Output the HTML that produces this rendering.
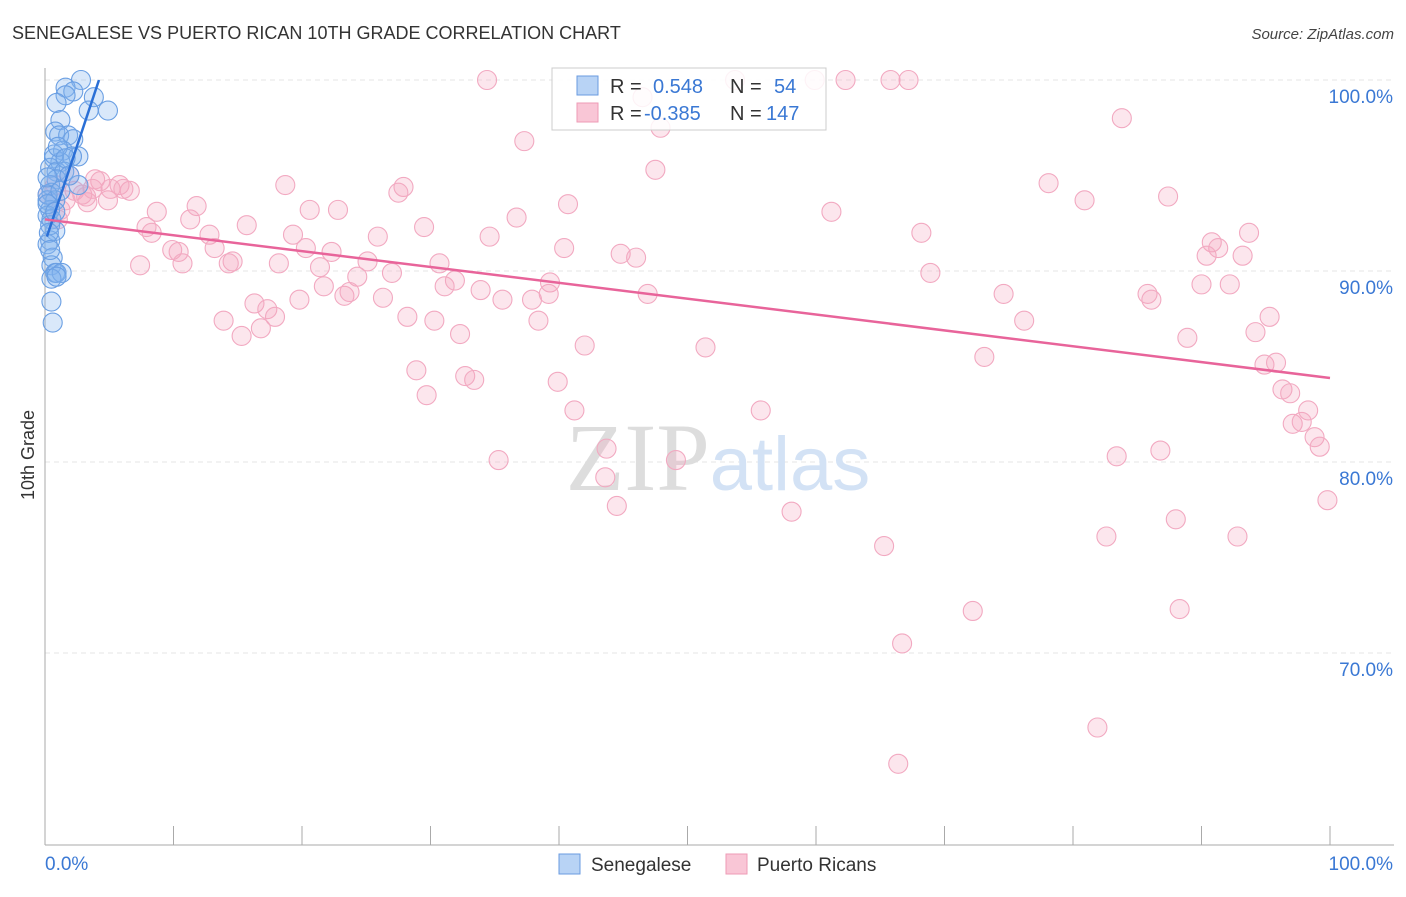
<!DOCTYPE html>
<html><head><meta charset="utf-8"><style>
body{margin:0;background:#fff;font-family:"Liberation Sans",sans-serif;}
</style></head><body>
<svg width="1406" height="892" xmlns="http://www.w3.org/2000/svg" id="svg">
<text x="12" y="39" font-size="18" fill="#333">SENEGALESE VS PUERTO RICAN 10TH GRADE CORRELATION CHART</text>
<text x="1394" y="39" font-size="15" fill="#444" text-anchor="end" font-style="italic">Source: ZipAtlas.com</text>
<text transform="translate(34,455) rotate(-90)" font-size="18" fill="#333" text-anchor="middle">10th Grade</text>
<g id="grid"></g>
<text x="718" y="490" font-size="96" text-anchor="middle" font-family="Liberation Serif" fill="#ddd"><tspan fill="#ddd">ZIP</tspan><tspan fill="#d3e2f5" font-family="Liberation Sans" font-size="76">atlas</tspan></text>
<g id="pts"></g>
<g id="lines"></g>
<g>
<rect x="552" y="68" width="274" height="62" fill="#fff" fill-opacity="0.85" stroke="#ccc"/>
<rect x="577" y="76" width="21" height="19" fill="#b8d3f5" stroke="#6a9be0"/>
<rect x="577" y="103" width="21" height="19" fill="#f9c6d6" stroke="#ee9bb6"/>
<text x="610" y="93" font-size="20" fill="#333">R =</text><text x="653" y="93" font-size="20" fill="#3a78d4">0.548</text>
<text x="730" y="93" font-size="20" fill="#333">N =</text><text x="774" y="93" font-size="20" fill="#3a78d4">54</text>
<text x="610" y="120" font-size="20" fill="#333">R =</text><text x="644" y="120" font-size="20" fill="#3a78d4">-0.385</text>
<text x="730" y="120" font-size="20" fill="#333">N =</text><text x="766" y="120" font-size="20" fill="#3a78d4">147</text>
</g>
<g>
<rect x="559" y="854" width="21" height="20" fill="#b8d3f5" stroke="#6a9be0"/>
<text x="591" y="871" font-size="19" fill="#333">Senegalese</text>
<rect x="726" y="854" width="21" height="20" fill="#f9c6d6" stroke="#ee9bb6"/>
<text x="757" y="871" font-size="19" fill="#333">Puerto Ricans</text>
</g>
<text x="45" y="870" font-size="19" fill="#3a78d4">0.0%</text>
<text x="1393" y="870" font-size="19" fill="#3a78d4" text-anchor="end">100.0%</text>
</svg>
<script>
const yTicks=[100,90,80,70];
const yTickLabels=["100.0%","90.0%","80.0%","70.0%"];
const xTicks=[0,10,20,30,40,50,60,70,80,90,100];
const blueX=[2.8,1.6,2.2,1.6,3.8,0.9,3.4,4.9,1.2,0.8,1.8,1.1,2.2,1.4,0.7,2.6,2.1,1.2,0.4,0.9,1.5,0.9,2.6,0.4,0.5,0.2,0.8,0.4,0.2,0.5,0.8,0.4,0.2,0.6,0.5,0.8,0.9,1.3,0.5,0.5,0.6,0.2,0.2,0.4,0.7,1.0,1.6,1.9,0.2,1.2,0.8,0.3,0.4,0.9];
const blueY=[100,99.6,99.4,99.2,99.1,98.8,98.4,98.4,97.9,97.3,97.1,97.1,96.9,96.3,95.9,96.0,96.0,95.7,95.4,95.2,95.2,94.8,94.5,94.5,94.1,93.7,93.7,93.2,92.9,92.7,92.1,91.6,91.4,90.7,90.3,89.9,89.9,89.9,89.6,88.4,87.3,94.0,93.5,92.4,96.1,96.5,95.9,95.0,94.9,94.2,93.1,92.0,91.1,89.7];
const pinkX=[34.4,53.7,59.9,62.3,65.8,67.2,46.5,83.8,37.3,47.9,47.5,18.7,27.9,27.5,78.1,87.4,80.9,40.7,36.7,61.2,20.6,22.8,11.8,8.7,11.3,15.7,29.5,25.9,34.6,12.8,19.3,7.9,8.3,68.2,93.7,90.8,91.3,90.4,93.2,40.4,44.8,46.0,20.3,22.3,9.9,10.4,13.2,14.6,14.3,7.4,10.7,18.2,21.4,25.1,30.7,27.0,24.3,31.9,31.1,39.3,33.9,39.2,68.9,74.6,85.8,86.1,90.0,92.2,19.8,23.3,23.7,21.7,26.3,35.6,37.9,46.9,16.3,17.3,17.9,13.9,28.2,30.3,38.4,76.2,95.3,94.2,32.3,15.3,16.8,42.0,51.4,88.9,73.1,94.9,95.8,28.9,32.7,33.4,39.9,96.3,96.9,29.7,41.2,55.7,98.3,97.1,97.8,98.8,99.2,43.7,86.8,83.4,35.3,49.1,43.6,99.8,44.5,58.1,88.0,82.6,92.8,65.3,72.2,88.3,66.7,81.9,66.4,4.3,5.8,6.6,4.9,3.3,2.3,1.9,1.2,2.9,3.7,0.8,1.6,5.1,6.1,3.2,1.0,3.9,0.2];
const pinkY=[100,100,100,100,100,100,99.1,98.0,96.8,97.5,95.3,94.5,94.4,94.1,94.6,93.9,93.7,93.5,92.8,93.1,93.2,93.2,93.4,93.1,92.7,92.4,92.3,91.8,91.8,91.9,91.9,92.3,92.0,92.0,92.0,91.5,91.2,90.8,90.8,91.2,90.9,90.7,91.2,91.0,91.1,91.0,91.2,90.5,90.4,90.3,90.4,90.4,90.2,90.5,90.4,89.9,89.7,89.5,89.2,89.4,89.0,88.8,89.9,88.8,88.8,88.5,89.3,89.3,88.5,88.7,88.9,89.2,88.6,88.5,88.5,88.8,88.3,88.0,87.6,87.4,87.6,87.4,87.4,87.4,87.6,86.8,86.7,86.6,87.0,86.1,86.0,86.5,85.5,85.1,85.2,84.8,84.5,84.3,84.2,83.8,83.6,83.5,82.7,82.7,82.7,82.0,82.1,81.3,80.8,80.7,80.6,80.3,80.1,80.1,79.2,78.0,77.7,77.4,77.0,76.1,76.1,75.6,72.2,72.3,70.5,66.1,64.2,94.7,94.5,94.2,93.7,93.6,94.2,95.0,93.2,94.0,94.3,94.5,93.7,94.3,94.3,93.9,92.7,94.8,94.0];
const blueLine=[[0.15,91.8],[4.2,100]];
const pinkLine=[[0,92.7],[100,84.4]];
const NS="http://www.w3.org/2000/svg";
const sx=v=>45+v*12.85, sy=v=>80+(100-v)*19.1;
function mk(t,a,p){const e=document.createElementNS(NS,t);for(const k in a)e.setAttribute(k,a[k]);p.appendChild(e);return e;}
const grid=document.getElementById('grid');
yTicks.forEach((t,i)=>{
 const l=mk('line',{x1:45,x2:1394,y1:sy(t),y2:sy(t),stroke:'#e6e6e6','stroke-dasharray':'5,4'},grid);
 
 
 const tx=mk('text',{x:1393,y:sy(t)+23,'font-size':19,fill:'#3a78d4','text-anchor':'end'},grid);
 tx.textContent=yTickLabels[i];
 
 
});
const ax=mk('line',{x1:45,x2:45,y1:68,y2:845,stroke:'#aaa'},grid);


const bx=mk('line',{x1:45,x2:1394,y1:845,y2:845,stroke:'#aaa'},grid);


xTicks.forEach(t=>{
 const l=mk('line',{x1:sx(t),x2:sx(t),y1:826,y2:845,stroke:'#aaa'},grid);
 
 
});
const pts=document.getElementById('pts');
pinkX.forEach((x,i)=>{
 const c=mk('circle',{cx:sx(x),cy:sy(pinkY[i]),r:9.5,fill:'rgba(244,165,192,0.28)',stroke:'#f2a9c1','stroke-width':1.1},pts);
 
 
});
blueX.forEach((x,i)=>{
 const c=mk('circle',{cx:sx(x),cy:sy(blueY[i]),r:9.5,fill:'rgba(130,178,238,0.3)',stroke:'#6a9fe3','stroke-width':1.1},pts);
 
 
});
const lines=document.getElementById('lines');
const bl=mk('line',{x1:sx(blueLine[0][0]),y1:sy(blueLine[0][1]),x2:sx(blueLine[1][0]),y2:sy(blueLine[1][1]),stroke:'#2a6fd6','stroke-width':2.5},lines);


const pl=mk('line',{x1:sx(pinkLine[0][0]),y1:sy(pinkLine[0][1]),x2:sx(pinkLine[1][0]),y2:sy(pinkLine[1][1]),stroke:'#e8649a','stroke-width':2.5},lines);


</script>
</body></html>
